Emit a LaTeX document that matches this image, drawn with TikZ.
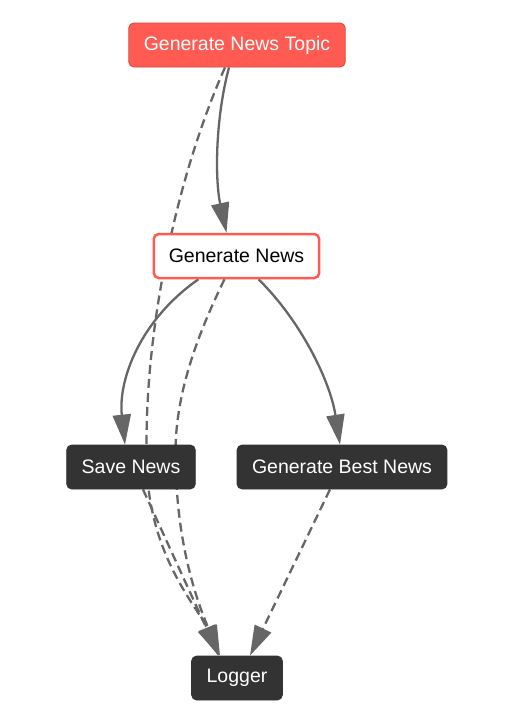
\documentclass[tikz,border=0pt]{standalone}
\usepackage{fontspec}
\setmainfont{Liberation Sans}
\usetikzlibrary{arrows.meta, backgrounds}
\definecolor{topicred}{HTML}{FF5B52}
\definecolor{topicedge}{HTML}{D8453D}
\definecolor{boxdark}{HTML}{333333}
\definecolor{linkgray}{HTML}{666666}
\tikzset{
  box/.style={rectangle, rounded corners=5pt, minimum height=44pt, inner xsep=15pt,
    font=\fontsize{19.5}{23}\selectfont},
  topicbox/.style={box, fill=topicred, draw=topicedge, line width=0.8pt, text=white},
  newsbox/.style={box, fill=white, draw=topicred, line width=2.5pt, text=black},
  darkbox/.style={box, fill=boxdark, draw=boxdark, line width=0.8pt, text=white},
  flow/.style={draw=linkgray, line width=2.3pt, -{Triangle[length=30pt,width=18pt]}},
  logflow/.style={flow, dash pattern=on 9pt off 5pt},
}

\begin{document}
\begin{tikzpicture}[x=1pt, y=-1pt]
    \useasboundingbox (0,0) rectangle (506,716);
    \node[topicbox]
      (topic) at (237,45) {Generate News Topic};
    \node[newsbox]
      (news) at (236.5,256) {Generate News};
    \node[darkbox]
      (save) at (131,467) {Save News};
    \node[darkbox]
      (best) at (342,467) {Generate Best News};
    \node[darkbox]
      (logger) at (237,678) {Logger};
    \begin{scope}[on background layer]
      \draw[flow] ([xshift=-8pt]topic.south) .. controls (215,120) and (215,180) .. ([xshift=-10pt]news.north);
      \draw[flow] ([xshift=-38pt]news.south) .. controls (140,320) and (118,380) .. ([xshift=-6pt]save.north);
      \draw[flow] ([xshift=22pt]news.south) .. controls (300,320) and (330,380) .. ([xshift=-2pt]best.north);
      \draw[logflow] ([xshift=-12pt]topic.south) .. controls (175,180) and (142,340) .. (147,470)
        .. controls (151,560) and (200,610) .. ([xshift=-19pt]logger.north);
      \draw[logflow] ([xshift=-12pt]news.south) .. controls (190,350) and (172,410) .. (176,470)
        .. controls (178,560) and (205,620) .. ([xshift=-17pt]logger.north);
      \draw[logflow] ([xshift=12pt]save.south) -- ([xshift=-18pt]logger.north);
      \draw[logflow] ([xshift=-12pt]best.south) -- ([xshift=13pt]logger.north);
    \end{scope}
  \end{tikzpicture}
\end{document}
